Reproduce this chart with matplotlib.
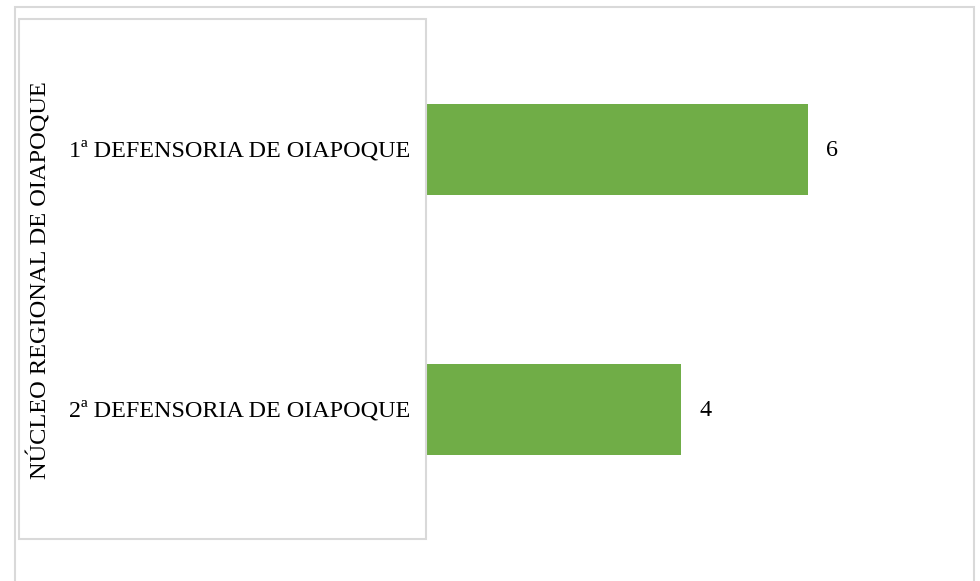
import matplotlib
matplotlib.use("Agg")
import matplotlib.pyplot as plt
from matplotlib.patches import Rectangle

group_label = "NÚCLEO REGIONAL DE OIAPOQUE"
categories = ["1ª DEFENSORIA DE OIAPOQUE", "2ª DEFENSORIA DE OIAPOQUE"]
values = [6, 4]
bar_color = "#70AD47"
border_color = "#D9D9D9"

W, H = 980, 581
fig = plt.figure(figsize=(W / 100, H / 100), dpi=100)
plt.rcParams['font.family'] = ['Liberation Serif', 'DejaVu Serif']

def fx(px):
    return px / W

def fy(py):
    return 1 - py / H

# outer chart border (bottom cut off)
fig.patches.append(Rectangle((fx(15), fy(590)), fx(974) - fx(15), fy(7) - fy(590),
                             transform=fig.transFigure, fill=False,
                             edgecolor=border_color, linewidth=1.5))
# category axis box
fig.patches.append(Rectangle((fx(19), fy(539)), fx(426) - fx(19), fy(19) - fy(539),
                             transform=fig.transFigure, fill=False,
                             edgecolor=border_color, linewidth=1.5))

ax = fig.add_axes([fx(427), fy(539), fx(967) - fx(427), fy(19) - fy(539)])
ypos = list(range(len(categories)))
bars = ax.barh(ypos, values, height=0.35, color=bar_color)
ax.set_ylim(len(categories) - 0.5, -0.5)
ax.set_xlim(0, 8.5)
ax.set_yticks(ypos)
ax.set_yticklabels(categories, fontsize=17.4)
ax.tick_params(axis='y', length=0, pad=12)
ax.set_xticks([])
for s in ax.spines.values():
    s.set_visible(False)

for y, v in zip(ypos, values):
    ax.annotate(str(v), xy=(v, y), xytext=(18, -2), textcoords='offset pixels',
                ha='left', va='center', fontsize=17.4)

fig.text(fx(40), fy(280), group_label, rotation=90, ha='center', va='center', fontsize=17.6)

fig.savefig("out.png", dpi=100)
